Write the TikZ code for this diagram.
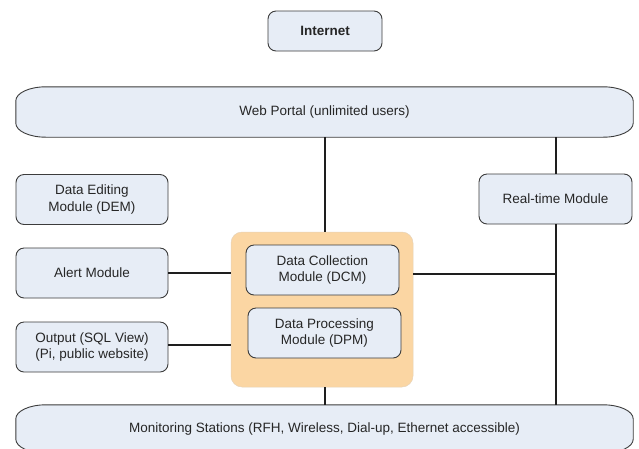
\documentclass[tikz,border=0pt]{standalone}
\usepackage{fontspec}
\setmainfont{Liberation Sans}
\usetikzlibrary{backgrounds,calc}
\definecolor{boxfill}{HTML}{E7EDF6}
\definecolor{boxline}{HTML}{3C3C3C}
\definecolor{orangefill}{HTML}{FBD6A3}
\definecolor{wire}{HTML}{1E1E1E}
\begin{document}
\begin{tikzpicture}[x=1pt,y=-1pt,
  every node/.style={font=\fontsize{13.5}{16.5}\selectfont, align=center, inner sep=0pt, text=black!85},
  modbox/.style={draw=boxline, line width=0.9pt, fill=boxfill, rounded corners=8pt, minimum width=152pt, minimum height=50pt},
  bigbox/.style={minimum width=617pt, minimum height=50pt},
  bigshape/.style={fill=boxfill, draw=boxline, line width=0.9pt},
  container/.style={fill=orangefill, draw=orangefill!85!black!60, line width=0.5pt, rounded corners=11pt, minimum width=182pt, minimum height=155pt},
  wirel/.style={draw=wire, line width=2pt}]
\useasboundingbox (0,0) rectangle (639,448);
\clip (0,0) rectangle (639,448);

% nodes
\node[modbox, minimum width=114pt, minimum height=40pt, font=\fontsize{13.5}{16.5}\selectfont\bfseries] (inet) at (325,31) {Internet};
\node[bigbox] (wp) at (324.5,112) {Web Portal (unlimited users)};
\node[modbox] (dem) at (92,199.5) {Data Editing\\Module (DEM)};
\node[modbox] (alert) at (92,273) {Alert Module};
\node[modbox] (out) at (92,347) {Output (SQL View)\\(Pi, public website)};
\node[modbox, minimum width=153pt] (rt) at (555.5,199) {Real-time Module};
\node[container] (core) at (322,309.5) {};
\node[modbox, minimum width=153pt] (dcm) at (322.5,270) {Data Collection\\Module (DCM)};
\node[modbox, minimum width=153pt] (dpm) at (324.5,333) {Data Processing\\Module (DPM)};
\node[bigbox, minimum height=48pt] (ms) at (324.5,429) {Monitoring Stations (RFH, Wireless, Dial-up, Ethernet accessible)};

% big rounded shapes behind the wide nodes
\begin{scope}[on background layer]
\foreach \n in {wp,ms}{
  \path[bigshape]
    ($(\n.north west)+(30,0)$) -- ($(\n.north east)+(-30,0)$)
    arc[start angle=90, end angle=0, x radius=30pt, y radius=14pt]
    -- ($(\n.south east)+(0,-14)$)
    arc[start angle=0, end angle=-90, x radius=30pt, y radius=14pt]
    -- ($(\n.south west)+(30,0)$)
    arc[start angle=270, end angle=180, x radius=30pt, y radius=14pt]
    -- ($(\n.north west)+(0,14)$)
    arc[start angle=180, end angle=90, x radius=30pt, y radius=14pt]
    -- cycle;
}
\end{scope}

% junction on the right bus
\coordinate (j) at (rt.south |- 0,274);

% connectors
\draw[wirel] (wp.south) -- (wp.south |- core.north);
\draw[wirel] (wp.south -| rt.north) -- (rt.north);
\draw[wirel] (rt.south) -- (rt.south |- ms.north);
\draw[wirel] (core.east |- j) -- (j);
\draw[wirel] (alert.east) -- (alert.east -| core.west);
\draw[wirel] ($(out.east)+(0,-2)$) -- ($(out.east -| core.west)+(0,-2)$);
\draw[wirel] (wp.south |- core.south) -- (wp.south |- ms.north);
\end{tikzpicture}
\end{document}
